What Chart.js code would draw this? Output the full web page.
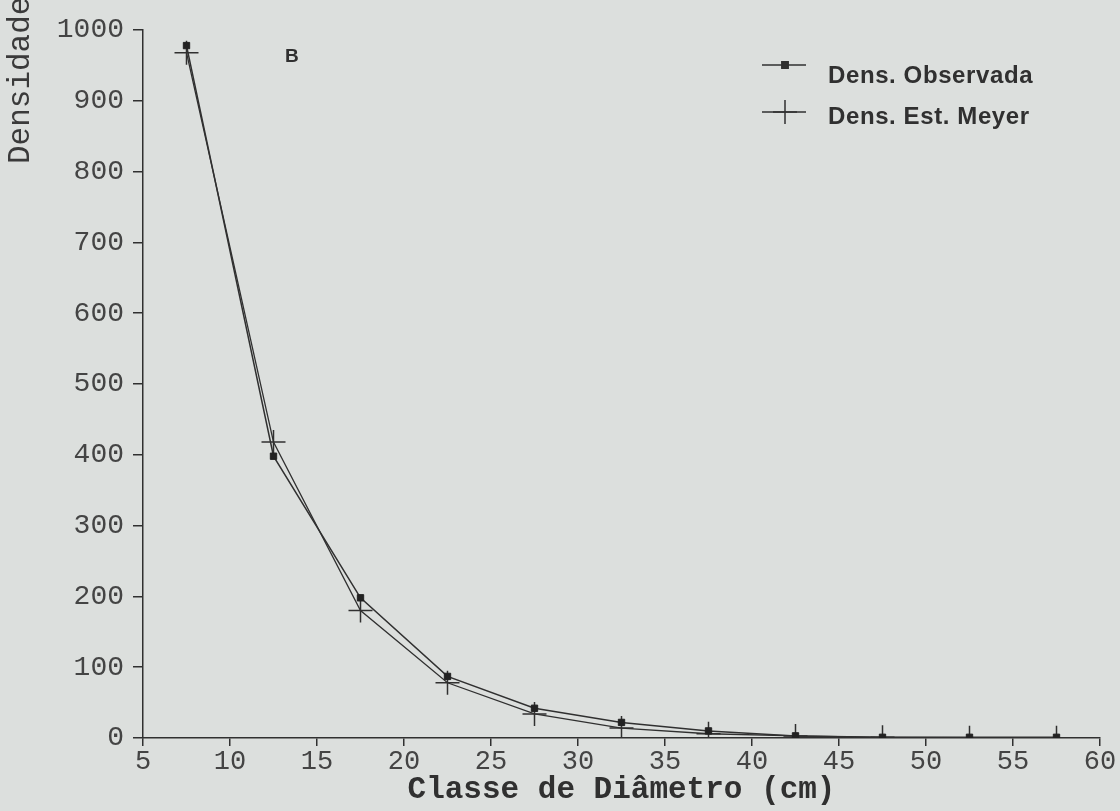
<!DOCTYPE html>
<html>
<head>
<meta charset="utf-8">
<title>Densidade por classe de diâmetro</title>
<script src="https://cdn.jsdelivr.net/npm/chart.js@4.4.0/dist/chart.umd.min.js"></script>
<style>
  html, body { margin: 0; padding: 0; background: #dcdfdd; }
  #wrap { width: 1120px; height: 811px; }
</style>
</head>
<body>
<div id="wrap"><canvas id="chart" width="1120" height="811"></canvas></div>
<script>
// class centres (cm)
const classes = [7.5, 12.5, 17.5, 22.5, 27.5, 32.5, 37.5, 42.5, 47.5, 52.5, 57.5];
const densObservada = [978, 398, 198, 87, 42, 22, 10, 3, 1, 1, 1];
const densMeyer = [968, 418, 180, 78, 34, 14, 6, 3, 1, 0.5, 0.2];
const xTicks = [5, 10, 15, 20, 25, 30, 35, 40, 45, 50, 55, 60];
const yTicks = [0, 100, 200, 300, 400, 500, 600, 700, 800, 900, 1000];

const ink = '#303030';
const mono = 'Liberation Mono';
const sans = 'Liberation Sans';

const toPoints = (ys) => classes.map((x, i) => ({ x: x, y: ys[i] }));

// y title (cut at the top edge), panel letter and the legend box inside the plot
const annotate = {
    id: 'annotate',
    afterDraw(chart) {
        const ctx = chart.ctx;
        ctx.save();

        ctx.fillStyle = '#3a3a3a';
        ctx.font = `31px "${mono}"`;
        ctx.textAlign = 'left';
        ctx.textBaseline = 'alphabetic';
        ctx.translate(29, 164);
        ctx.rotate(-Math.PI / 2);
        ctx.fillText('Densidade', 0, 0);
        ctx.setTransform(1, 0, 0, 1, 0, 0);

        ctx.fillStyle = ink;
        ctx.font = `bold 19px "${sans}"`;
        ctx.fillText('B', 285, 62);

        const rows = [
            { ds: chart.data.datasets[0], lineY: 65, textY: 83 },
            { ds: chart.data.datasets[1], lineY: 112, textY: 124 }
        ];
        ctx.font = `bold 24px "${sans}"`;
        ctx.letterSpacing = '0.6px';
        rows.forEach(r => {
            ctx.strokeStyle = ink;
            ctx.lineWidth = 1.5;
            ctx.beginPath();
            ctx.moveTo(762, r.lineY);
            ctx.lineTo(806, r.lineY);
            ctx.stroke();
            Chart.helpers.drawPoint(ctx, {
                pointStyle: r.ds.pointStyle,
                radius: r.ds.pointRadius,
                borderWidth: r.ds.pointBorderWidth
            }, 785, r.lineY);
            ctx.fillStyle = ink;
            ctx.fillText(r.ds.label, 828, r.textY);
        });
        ctx.restore();
    }
};

const ctx = document.getElementById('chart').getContext('2d');

new Chart(ctx, {
    type: 'line',
    data: {
        datasets: [{
            label: 'Dens. Observada',
            data: toPoints(densObservada),
            borderColor: ink,
            borderWidth: 1.5,
            pointStyle: 'rect',
            pointRadius: 4.5,
            pointBorderWidth: 1,
            pointBackgroundColor: '#222',
            pointBorderColor: '#222',
            fill: false,
            tension: 0
        }, {
            label: 'Dens. Est. Meyer',
            data: toPoints(densMeyer),
            borderColor: ink,
            borderWidth: 1.3,
            pointStyle: 'cross',
            pointRadius: 12,
            pointBorderWidth: 1.5,
            pointBorderColor: ink,
            fill: false,
            tension: 0
        }]
    },
    options: {
        responsive: false,
        animation: false,
        devicePixelRatio: 1,
        layout: { padding: { top: 30, right: 20, bottom: 0, left: 0 } },
        plugins: {
            legend: { display: false },
            tooltip: { enabled: false }
        },
        scales: {
            x: {
                type: 'linear',
                min: 5,
                max: 60,
                afterBuildTicks: (scale) => { scale.ticks = xTicks.map(v => ({ value: v })); },
                afterFit: (scale) => { scale.height = 73; },
                grid: { drawOnChartArea: false, drawTicks: true, tickLength: 8, color: ink, lineWidth: 1.5 },
                border: { display: true, color: ink, width: 1.5 },
                ticks: {
                    color: '#444',
                    padding: 0,
                    maxRotation: 0,
                    font: { family: mono, size: 27 },
                    callback: (v) => String(v)
                },
                title: {
                    display: true,
                    text: 'Classe de Diâmetro (cm)',
                    color: ink,
                    font: { family: mono, size: 31, weight: 'bold' },
                    padding: { top: 0, bottom: 2 }
                }
            },
            y: {
                min: 0,
                max: 1000,
                afterBuildTicks: (scale) => { scale.ticks = yTicks.map(v => ({ value: v })); },
                afterFit: (scale) => { scale.width = 143; },
                grid: { drawOnChartArea: false, drawTicks: true, tickLength: 10, color: ink, lineWidth: 1.5 },
                border: { display: true, color: ink, width: 1.5 },
                ticks: {
                    color: '#444',
                    padding: 9,
                    font: { family: mono, size: 28 },
                    callback: (v) => String(v)
                }
            }
        }
    },
    plugins: [annotate]
});
</script>
</body>
</html>
